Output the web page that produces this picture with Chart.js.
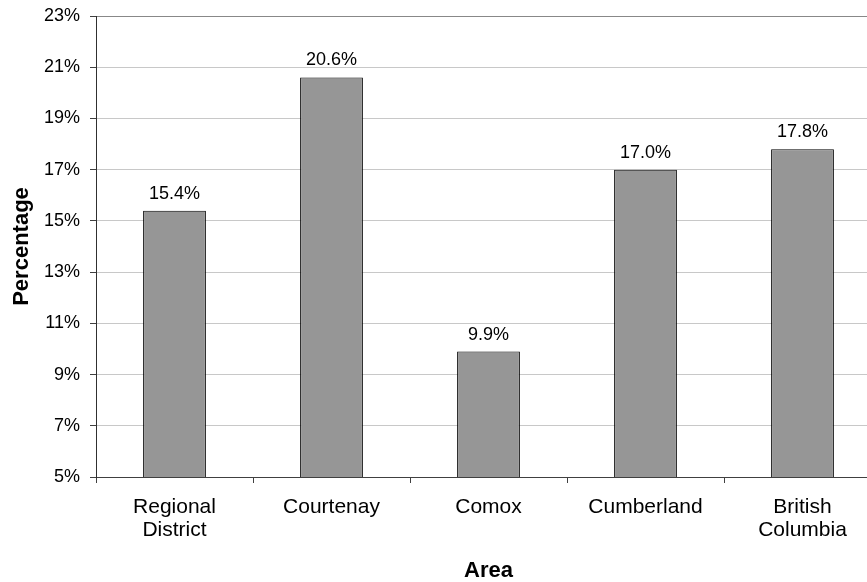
<!DOCTYPE html>
<html>
<head>
<meta charset="utf-8">
<script src="https://cdn.jsdelivr.net/npm/chart.js@4"></script>
<style>
html,body{margin:0;padding:0;background:#fff;overflow:hidden;width:867px;height:582px;}
canvas{display:block;}
</style>
</head>
<body>
<canvas id="c" width="885" height="582"></canvas>
<script>
const categories = [["Regional","District"], "Courtenay", "Comox", "Cumberland", ["British","Columbia"]];
const percentages = [15.4, 20.6, 9.9, 17.0, 17.8];
const yMin = 5, yMax = 23, yStep = 2;
const xTitle = "Area";
const yTitle = "Percentage";

const FONT = "'Liberation Sans', Arial, sans-serif";

const valueLabels = {
  id: 'valueLabels',
  afterDatasetsDraw(chart) {
    const ctx = chart.ctx;
    const meta = chart.getDatasetMeta(0);
    ctx.save();
    ctx.font = "18px " + FONT;
    ctx.fillStyle = '#000';
    ctx.textAlign = 'center';
    ctx.textBaseline = 'alphabetic';
    meta.data.forEach((bar, i) => {
      ctx.fillText(percentages[i].toFixed(1) + '%', bar.x, bar.y - 12);
    });
    ctx.restore();
  }
};

new Chart(document.getElementById('c'), {
  type: 'bar',
  data: {
    labels: categories,
    datasets: [{
      data: percentages,
      backgroundColor: '#969696',
      borderColor: '#000',
      borderWidth: 1,
      barPercentage: 0.4,
      categoryPercentage: 1.0
    }]
  },
  options: {
    responsive: false,
    animation: false,
    layout: { padding: { top: 16, right: 4, bottom: 0, left: 0 } },
    plugins: { legend: { display: false }, tooltip: { enabled: false } },
    scales: {
      x: {
        offset: true,
        grid: { display: true, drawOnChartArea: false, drawTicks: true, tickLength: 6, offset: true, color: '#404040' },
        border: { display: true, color: '#404040', width: 1 },
        ticks: { color: '#000', font: { family: FONT, size: 21, lineHeight: 1.1 }, padding: 13, maxRotation: 0, autoSkip: false },
        title: { display: true, text: xTitle, color: '#000', font: { family: FONT, size: 22, weight: 'bold', lineHeight: 1 }, padding: { top: 0, bottom: 0 } },
        afterFit(s) { s.height = 105; }
      },
      y: {
        min: yMin, max: yMax,
        grid: {
          color: (c) => (c.tick && c.tick.value === yMax) ? '#888888' : '#c8c8c8',
          tickColor: '#404040',
          tickLength: 6
        },
        border: { display: true, color: '#303030', width: 1 },
        ticks: { stepSize: yStep, color: '#000', font: { family: FONT, size: 18 }, padding: 10, callback: (v) => v + '%' },
        title: { display: true, text: yTitle, color: '#000', font: { family: FONT, size: 22, weight: 'bold', lineHeight: 1 }, padding: { top: 11, bottom: 0 } },
        afterFit(s) { s.width = 96; s.paddingTop = 0; s.paddingBottom = 0; }
      }
    }
  },
  plugins: [valueLabels]
});
</script>
</body>
</html>
